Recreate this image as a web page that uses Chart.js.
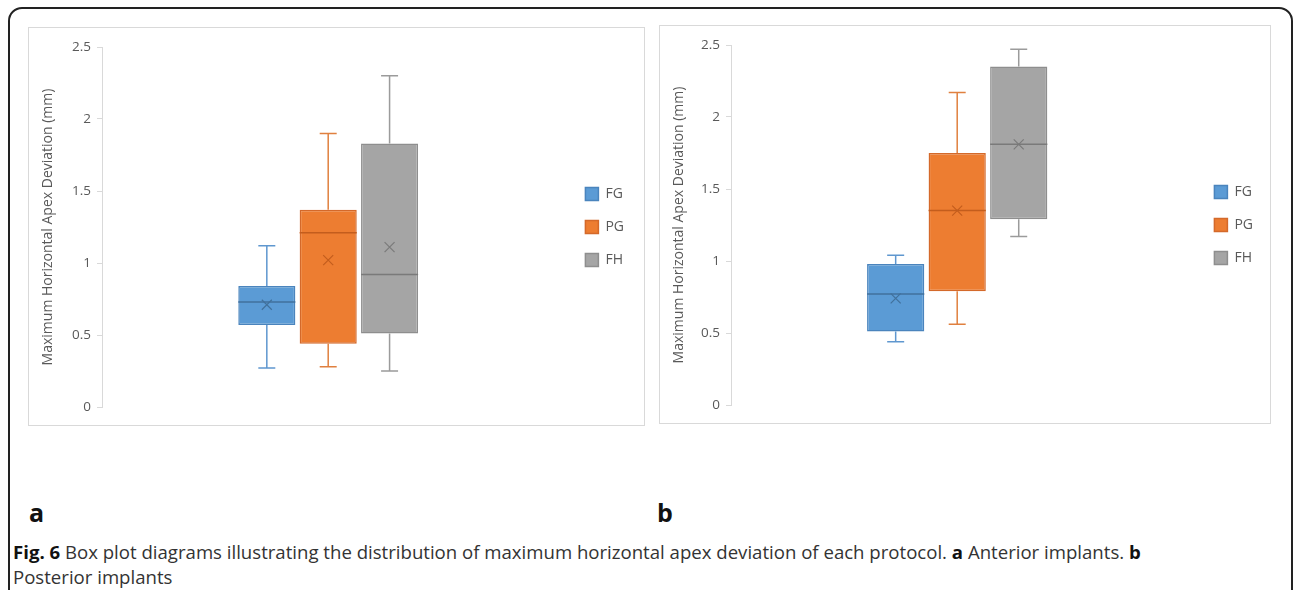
<!DOCTYPE html>
<html>
<head>
<meta charset="utf-8">
<script src="https://cdn.jsdelivr.net/npm/chart.js@4.4.1/dist/chart.umd.min.js"></script>
<style>
  body { margin: 0; background: #fff; width: 1295px; height: 590px; overflow: hidden; position: relative; font-family: "Open Sans", sans-serif; }
  .frame { position: absolute; left: 8px; top: 7px; width: 1285px; height: 640px; border: 2px solid #222; border-radius: 14px; box-sizing: border-box; }
  .panel { position: absolute; border: 1px solid #d9d9d9; box-sizing: border-box; }
  .panel-label { position: absolute; font-weight: bold; font-size: 25px; color: #111; line-height: 1; }
  .caption { position: absolute; left: 13px; top: 539px; font-size: 18.6px; line-height: 25px; color: #333; white-space: nowrap; }
  .caption b { color: #111; }
</style>
</head>
<body>
<div class="frame"></div>

<div class="panel" id="panelA" style="left:28px; top:27px; width:617px; height:399px;">
  <canvas id="chartA"></canvas>
</div>
<div class="panel" id="panelB" style="left:659px; top:25px; width:612px; height:399px;">
  <canvas id="chartB"></canvas>
</div>

<div class="panel-label" style="left:29px; top:500px;">a</div>
<div class="panel-label" style="left:657px; top:500px;">b</div>

<div class="caption">
  <b>Fig. 6</b> Box plot diagrams illustrating the distribution of maximum horizontal apex deviation of each protocol. <b>a</b> Anterior implants. <b>b</b><br>
  Posterior implants
</div>

<script>
// --- Data ---
const groups = ["FG", "PG", "FH"];
const yTicks = [0, 0.5, 1, 1.5, 2, 2.5];
const axisTitle = "Maximum Horizontal Apex Deviation (mm)";

// a: anterior implants
const antMin    = [0.27, 0.28, 0.25];
const antQ1     = [0.57, 0.44, 0.51];
const antMedian = [0.73, 1.21, 0.92];
const antQ3     = [0.84, 1.37, 1.83];
const antMax    = [1.12, 1.90, 2.30];
const antMean   = [0.71, 1.02, 1.11];

// b: posterior implants
const postMin    = [0.44, 0.56, 1.17];
const postQ1     = [0.51, 0.79, 1.29];
const postMedian = [0.77, 1.35, 1.81];
const postQ3     = [0.98, 1.75, 2.35];
const postMax    = [1.04, 2.17, 2.47];
const postMean   = [0.74, 1.35, 1.81];

// --- Office palette ---
const fillColors    = ["#5b9bd5", "#ed7d31", "#a5a5a5"];
const edgeColors    = ["#4a84bd", "#d4692a", "#8e8e8e"];
const whiskerColors = ["#5f97cf", "#e0803f", "#9b9b9b"];
const markColors    = ["#41719c", "#c35d1d", "#7a7a7a"];
const textColor = "#595959";

Chart.defaults.font.family = "'Open Sans', sans-serif";

// --- Whiskers, median line and mean cross, placed with the chart's own scales ---
const boxPlotMarks = {
    id: "boxPlotMarks",
    beforeDatasetsDraw(chart, args, opts) {
        const { ctx } = chart;
        const y = chart.scales.y;
        const cap = opts.capWidth / 2;
        opts.stats.forEach((s, i) => {
            const bar = chart.getDatasetMeta(i).data[0];
            const yMin = y.getPixelForValue(s.min);
            const yMax = y.getPixelForValue(s.max);
            ctx.save();
            ctx.strokeStyle = whiskerColors[i];
            ctx.lineWidth = 1.5;
            ctx.beginPath();
            ctx.moveTo(bar.x, yMin);
            ctx.lineTo(bar.x, y.getPixelForValue(s.q1));
            ctx.moveTo(bar.x, y.getPixelForValue(s.q3));
            ctx.lineTo(bar.x, yMax);
            ctx.moveTo(bar.x - cap, yMin);
            ctx.lineTo(bar.x + cap, yMin);
            ctx.moveTo(bar.x - cap, yMax);
            ctx.lineTo(bar.x + cap, yMax);
            ctx.stroke();
            ctx.restore();
        });
    },
    afterDatasetsDraw(chart, args, opts) {
        const { ctx } = chart;
        const y = chart.scales.y;
        const r = opts.crossSize / 2;
        opts.stats.forEach((s, i) => {
            const bar = chart.getDatasetMeta(i).data[0];
            const half = bar.width / 2;
            const yMed = y.getPixelForValue(s.median);
            const yMean = y.getPixelForValue(s.mean);
            ctx.save();
            ctx.strokeStyle = markColors[i];
            ctx.lineWidth = 1.5;
            ctx.beginPath();
            ctx.moveTo(bar.x - half, yMed);
            ctx.lineTo(bar.x + half, yMed);
            ctx.stroke();
            ctx.lineWidth = 1.2;
            ctx.beginPath();
            ctx.moveTo(bar.x - r, yMean - r);
            ctx.lineTo(bar.x + r, yMean + r);
            ctx.moveTo(bar.x + r, yMean - r);
            ctx.lineTo(bar.x - r, yMean + r);
            ctx.stroke();
            ctx.restore();
        });
    }
};

function makeStats(min, q1, median, q3, max, mean) {
    return groups.map((g, i) => ({
        min: min[i], q1: q1[i], median: median[i], q3: q3[i], max: max[i], mean: mean[i]
    }));
}

function renderBoxChart(canvasId, stats, fit) {
    const datasets = groups.map((g, i) => ({
        label: g,
        data: [[stats[i].q1, stats[i].q3]],
        backgroundColor: fillColors[i],
        borderColor: edgeColors[i],
        borderWidth: 1.5,
        borderSkipped: false,
        categoryPercentage: fit.categoryPercentage,
        barPercentage: 0.93
    }));

    return new Chart(document.getElementById(canvasId), {
        type: "bar",
        data: { labels: [""], datasets },
        plugins: [boxPlotMarks],
        options: {
            responsive: true,
            maintainAspectRatio: false,
            animation: false,
            layout: { padding: { left: 7, top: 19, bottom: 18, right: fit.padRight } },
            plugins: {
                legend: {
                    position: "right",
                    labels: {
                        boxWidth: 13,
                        boxHeight: 13,
                        padding: 19,
                        color: textColor,
                        font: { size: 14 }
                    }
                },
                tooltip: { enabled: false },
                boxPlotMarks: { stats, capWidth: 17, crossSize: 10 }
            },
            scales: {
                x: { display: false, offset: true },
                y: {
                    min: 0,
                    max: 2.5,
                    afterBuildTicks: s => { s.ticks = yTicks.map(v => ({ value: v })); },
                    afterFit: s => { s.width = fit.axisWidth; },
                    ticks: { color: textColor, font: { size: 13.5 }, padding: 6, callback: v => String(v) },
                    grid: { drawOnChartArea: false, tickLength: 5, color: "#d9d9d9" },
                    border: { color: "#d9d9d9" },
                    title: {
                        display: true,
                        text: axisTitle,
                        color: textColor,
                        font: { size: 14 },
                        padding: { top: 4, bottom: 4 }
                    }
                },
                // keeps a small gap between the plot area and the legend
                spacer: {
                    position: "right",
                    ticks: { display: false },
                    grid: { display: false },
                    border: { display: false },
                    afterFit: s => { s.width = 12; }
                }
            }
        }
    });
}

document.addEventListener("DOMContentLoaded", () => {
    renderBoxChart("chartA",
        makeStats(antMin, antQ1, antMedian, antQ3, antMax, antMean),
        { axisWidth: 66, padRight: 10, categoryPercentage: 0.407 });
    renderBoxChart("chartB",
        makeStats(postMin, postQ1, postMedian, postQ3, postMax, postMean),
        { axisWidth: 64, padRight: 7, categoryPercentage: 0.408 });
});
</script>
</body>
</html>
